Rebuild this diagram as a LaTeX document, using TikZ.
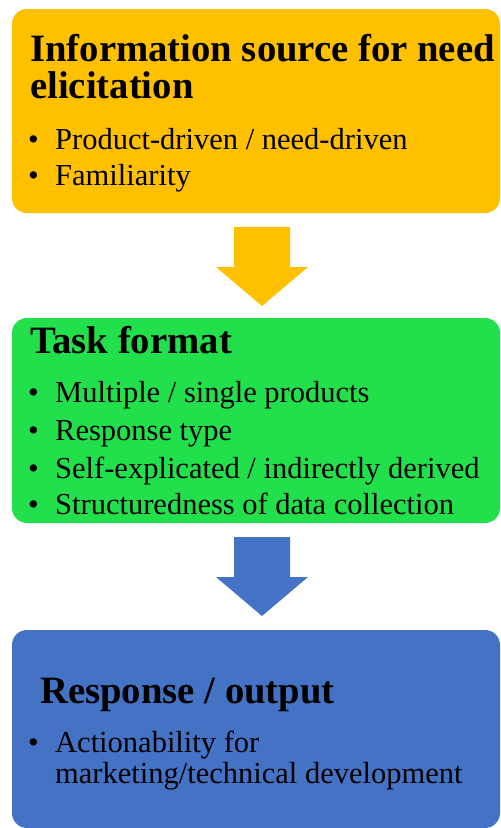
\documentclass[tikz,border=0pt]{standalone}
\usepackage{fontspec}
\setmainfont{Liberation Serif}
\definecolor{srcfill}{HTML}{FFC000}
\definecolor{taskfill}{HTML}{22E04C}
\definecolor{outfill}{HTML}{4472C4}
\begin{document}
\begin{tikzpicture}[x=1pt,y=-1pt,
  panel/.style={rounded corners=15pt},
  heading/.style={anchor=base west,inner sep=0pt,font=\fontsize{38.7}{37}\selectfont\bfseries},
  item/.style={anchor=base west,inner sep=0pt,font=\fontsize{30.5}{31}\selectfont}]
\useasboundingbox (0,0) rectangle (501,828);

% three stage panels
\fill[srcfill,panel]  (12,9)   rectangle (500,213);
\fill[taskfill,panel] (12,318) rectangle (500,523);
\fill[outfill,panel]  (12,630) rectangle (500,828);

% block arrows between the stages
\fill[srcfill] (234,227) -- (290,227) -- (290,267) -- (308,267) -- (262,306)
  -- (216,267) -- (234,267) -- cycle;
\fill[outfill] (234,537) -- (290,537) -- (290,577) -- (308,577) -- (262,616)
  -- (216,577) -- (234,577) -- cycle;

% information source
\node[heading] (srcA) at (30,61) {Information source for need};
\node[heading] (srcB) at (30,98) {elicitation};
\node[item] (srcdot1) at (28,149) {•};
\node[item] (src1) at (55,149) {Product-driven / need-driven};
\node[item] (srcdot2) at (28,185) {•};
\node[item] (src2) at (55,185) {Familiarity};

% task format
\node[heading] (taskT) at (30,353) {Task format};
\node[item] (taskdot1) at (28,402) {•};
\node[item] (task1) at (55,402) {Multiple / single products};
\node[item] (taskdot2) at (28,440) {•};
\node[item] (task2) at (55,440) {Response type};
\node[item] (taskdot3) at (28,478) {•};
\node[item] (task3) at (55,478) {Self-explicated / indirectly derived};
\node[item] (taskdot4) at (28,514) {•};
\node[item] (task4) at (55,514) {Structuredness of data collection};

% response / output
\node[heading] (outT) at (40,703) {Response / output};
\node[item] (outdot1) at (28,752) {•};
\node[item] (out1) at (55,752) {Actionability for};
\node[item] (out2) at (55,783) {marketing/technical development};
\end{tikzpicture}
\end{document}
